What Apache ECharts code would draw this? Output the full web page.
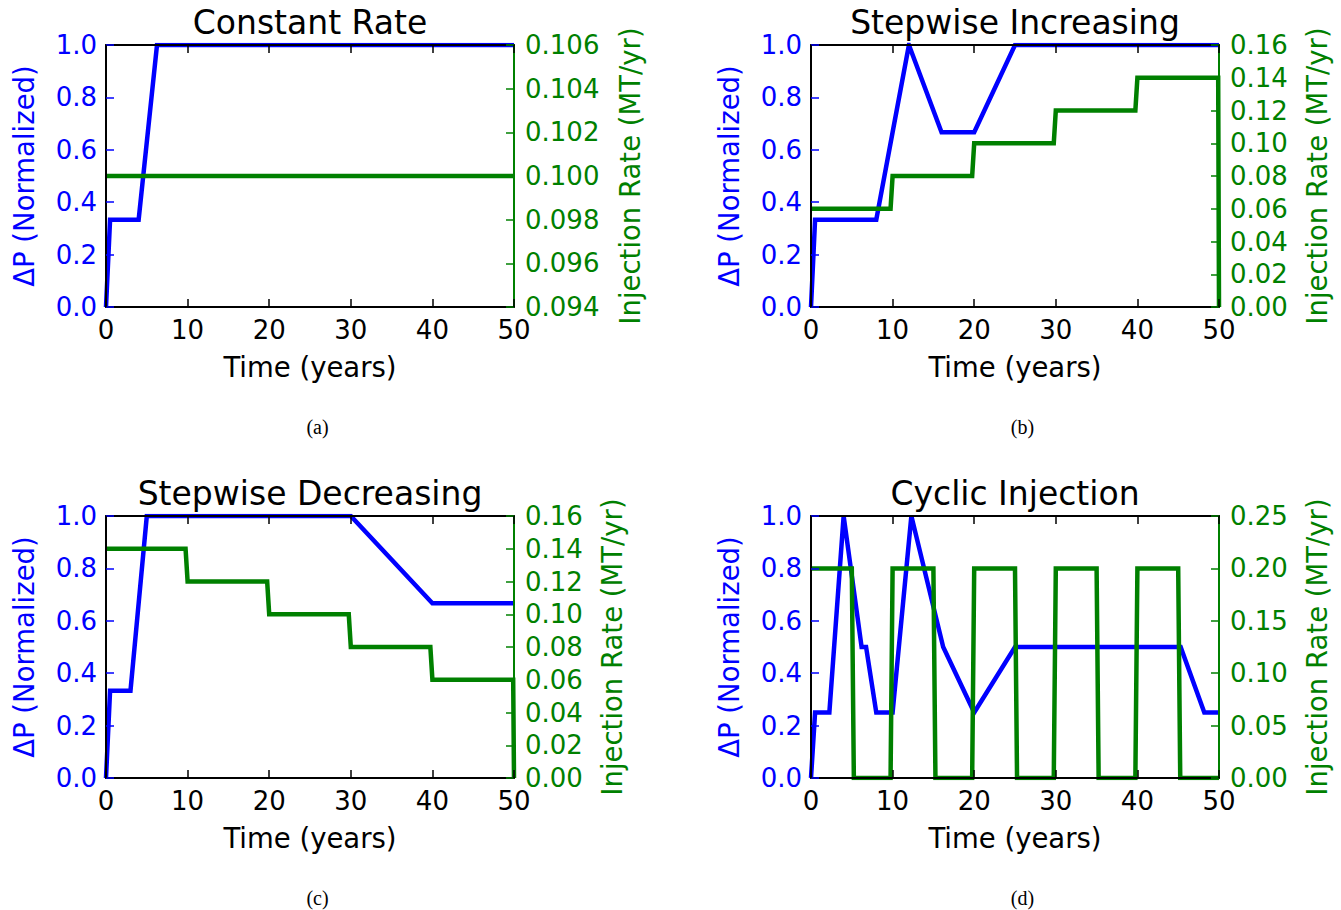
<!DOCTYPE html>
<html>
<head>
<meta charset="utf-8">
<title>Injection scenarios</title>
<script src="https://cdn.jsdelivr.net/npm/echarts/dist/echarts.min.js"></script>
<style>
  html, body { margin: 0; padding: 0; background: #ffffff; }
  #chart { width: 1341px; height: 910px; }
</style>
</head>
<body>
<div id="chart"></div>
<script>
// Panel titles and figure captions
const panelTitles = ['Constant Rate', 'Stepwise Increasing', 'Stepwise Decreasing', 'Cyclic Injection'];
const captions = ['(a)', '(b)', '(c)', '(d)'];

// Shared axis labels
const timeLabel = 'Time (years)';
const pressureLabel = 'ΔP (Normalized)';
const rateLabel = 'Injection Rate (MT/yr)';

// Right-axis (injection rate) scales per panel
const rateMin = [0.094, 0, 0, 0];
const rateMax = [0.106, 0.16, 0.16, 0.25];
const rateStep = [0.002, 0.02, 0.02, 0.05];
const rateDecimals = [3, 2, 2, 2];

// (a) Constant rate
const dpTimeA = [0, 0.5, 4, 6.25, 50];
const dpA = [0, 0.333, 0.333, 1, 1];
const rateTimeA = [0, 50];
const rateA = [0.1, 0.1];

// (b) Stepwise increasing
const dpTimeB = [0, 0.5, 8, 10, 12, 16, 20, 25, 50];
const dpB = [0, 0.333, 0.333, 0.667, 1, 0.667, 0.667, 1, 1];
const rateTimeB = [0, 9.75, 10, 19.75, 20, 29.75, 30, 39.75, 40, 49.9, 50];
const rateB = [0.06, 0.06, 0.08, 0.08, 0.10, 0.10, 0.12, 0.12, 0.14, 0.14, 0];

// (c) Stepwise decreasing
const dpTimeC = [0, 0.5, 3, 5, 30, 40, 50];
const dpC = [0, 0.333, 0.333, 1, 1, 0.667, 0.667];
const rateTimeC = [0, 9.75, 10, 19.75, 20, 29.75, 30, 39.75, 40, 49.9, 50];
const rateC = [0.14, 0.14, 0.12, 0.12, 0.10, 0.10, 0.08, 0.08, 0.06, 0.06, 0];

// (d) Cyclic injection
const dpTimeD = [0, 0.5, 2.25, 4, 6.2, 6.75, 8, 10, 12.3, 16.2, 20, 25, 45.3, 48.2, 50];
const dpD = [0, 0.25, 0.25, 1, 0.5, 0.5, 0.25, 0.25, 1, 0.5, 0.25, 0.5, 0.5, 0.25, 0.25];
const rateTimeD = [0, 5, 5.25, 9.75, 10, 15, 15.25, 19.75, 20, 25, 25.25, 29.75, 30, 35, 35.25, 39.75, 40, 45, 45.25, 50];
const rateD = [0.2, 0.2, 0, 0, 0.2, 0.2, 0, 0, 0.2, 0.2, 0, 0, 0.2, 0.2, 0, 0, 0.2, 0.2, 0, 0];

const dpTimes = [dpTimeA, dpTimeB, dpTimeC, dpTimeD];
const dpValues = [dpA, dpB, dpC, dpD];
const rateTimes = [rateTimeA, rateTimeB, rateTimeC, rateTimeD];
const rateValues = [rateA, rateB, rateC, rateD];

const zip = (xs, ys) => xs.map((x, i) => [x, ys[i]]);

const FONT = 'DejaVu Sans';
const BLUE = '#0000ff';
const GREEN = '#008000';
const BLACK = '#000000';

// Plot-area rectangles for the 2x2 layout
const grids = [
  { left: 106, top: 45, width: 408, height: 262 },
  { left: 811, top: 45, width: 408, height: 262 },
  { left: 106, top: 516, width: 408, height: 262 },
  { left: 811, top: 516, width: 408, height: 262 }
];
const rightNameGap = [102, 84, 84, 84];

const xAxes = [];
const yAxes = [];
const series = [];
const graphics = [];

grids.forEach((g, i) => {
  // spines sit on the plot-area edges, not on the zero of the other axis
  const spine = (color) => ({ show: true, onZero: false, lineStyle: { color: color, width: 2 } });
  const ticks = (color) => ({ show: true, inside: true, length: 8, lineStyle: { color: color, width: 1.5 } });

  // bottom time axis
  xAxes.push({
    gridIndex: i, type: 'value', position: 'bottom', min: 0, max: 50, interval: 10, z: 10,
    axisLine: spine(BLACK),
    axisTick: ticks(BLACK),
    axisLabel: { color: BLACK, fontFamily: FONT, fontSize: 26, margin: 10 },
    splitLine: { show: false },
    name: timeLabel, nameLocation: 'middle', nameGap: 46,
    nameTextStyle: { color: BLACK, fontFamily: FONT, fontSize: 27.5 }
  });
  // top frame with inward ticks
  xAxes.push({
    gridIndex: i, type: 'value', position: 'top', min: 0, max: 50, interval: 10, z: 10,
    axisLine: spine(BLACK),
    axisTick: ticks(BLACK),
    axisLabel: { show: false },
    splitLine: { show: false }
  });
  // left: normalized pressure change
  yAxes.push({
    gridIndex: i, type: 'value', position: 'left', min: 0, max: 1, interval: 0.2, z: 10,
    axisLine: spine(BLACK),
    axisTick: ticks(BLUE),
    axisLabel: { color: BLUE, fontFamily: FONT, fontSize: 26, margin: 9, formatter: v => v.toFixed(1) },
    splitLine: { show: false },
    name: pressureLabel, nameLocation: 'middle', nameGap: 68, nameRotate: 90,
    nameTextStyle: { color: BLUE, fontFamily: FONT, fontSize: 27.5 }
  });
  // right: injection rate
  yAxes.push({
    gridIndex: i, type: 'value', position: 'right',
    min: rateMin[i], max: rateMax[i], interval: rateStep[i], z: 10,
    axisLine: spine(GREEN),
    axisTick: ticks(GREEN),
    axisLabel: { color: GREEN, fontFamily: FONT, fontSize: 26, margin: 11,
                 formatter: v => v.toFixed(rateDecimals[i]) },
    splitLine: { show: false },
    name: rateLabel, nameLocation: 'middle', nameGap: rightNameGap[i], nameRotate: 90,
    nameTextStyle: { color: GREEN, fontFamily: FONT, fontSize: 27.5 }
  });

  series.push({
    type: 'line', xAxisIndex: 2 * i, yAxisIndex: 2 * i,
    data: zip(dpTimes[i], dpValues[i]),
    showSymbol: false, symbol: 'none', clip: true, z: 2,
    lineStyle: { color: BLUE, width: 4.5, join: 'miter' }
  });
  series.push({
    type: 'line', xAxisIndex: 2 * i, yAxisIndex: 2 * i + 1,
    data: zip(rateTimes[i], rateValues[i]),
    showSymbol: false, symbol: 'none', clip: true, z: 3,
    lineStyle: { color: GREEN, width: 4.5, join: 'miter' }
  });

  const cx = g.left + g.width / 2;
  graphics.push({
    type: 'text', x: cx, y: g.top - 23,
    style: { text: panelTitles[i], fill: BLACK, font: '33px "DejaVu Sans"', textAlign: 'center', textVerticalAlign: 'middle' }
  });
  graphics.push({
    type: 'text', x: cx + 7.5, y: g.top + g.height + 120,
    style: { text: captions[i], fill: BLACK, font: '20px "Liberation Serif"', textAlign: 'center', textVerticalAlign: 'middle' }
  });
});

const chart = echarts.init(document.getElementById('chart'), null, { renderer: 'svg' });
chart.setOption({
  animation: false,
  backgroundColor: '#ffffff',
  grid: grids.map(g => Object.assign({ containLabel: false, show: false }, g)),
  xAxis: xAxes,
  yAxis: yAxes,
  series: series,
  graphic: graphics
});
</script>
</body>
</html>
